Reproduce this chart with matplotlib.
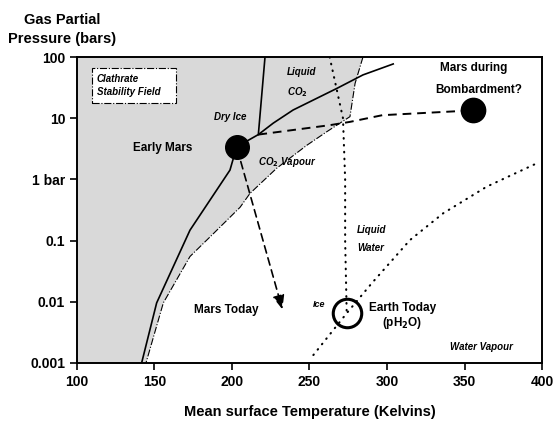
import numpy as np
import matplotlib
matplotlib.use('Agg')
import matplotlib.pyplot as plt
from matplotlib.patches import Rectangle

plt.rcParams['font.family'] = ['Liberation Sans', 'DejaVu Sans']
plt.rcParams['font.weight'] = 'bold'

# clathrate / CO2 stability field boundary (dash-dot edge of grey area)
field_T = [284.5, 279.4, 276.1, 261.1, 248.2, 228.8, 211.6, 205.2, 188, 172.9, 155.7, 144.5]
field_P = [100, 37, 10.6, 6.0, 3.6, 1.52, 0.59, 0.35, 0.13, 0.055, 0.0096, 0.001]

# CO2 sublimation / vapour curve (solid)
co2_T = [141.7, 151.4, 172.9, 198.7, 203, 217, 226.6, 239.4, 268, 284.5, 304]
co2_P = [0.001, 0.0096, 0.148, 1.42, 3.4, 5.4, 8.3, 13.6, 31, 51, 77]

# CO2 melting line
melt_T = [217, 221.3]
melt_P = [5.4, 100]

# water melting line (dotted)
wmelt_T = [263, 271.6, 273, 273, 274]
wmelt_P = [100, 10, 1, 0.1, 0.0065]

# water vapour / ice curve (dotted)
wvap_T = [252.5, 274, 290.1, 314.8, 336.3, 364.3, 396.6]
wvap_P = [0.00135, 0.0065, 0.02, 0.102, 0.28, 0.76, 1.83]

# dashed path triple point -> bombardment
path_T = [217, 263.2, 276, 297, 345, 355.5]
path_P = [5.4, 7.7, 8.7, 11.2, 13, 13.5]

early_mars = (203, 3.4)
bombard = (355.5, 13.5)
earth = (274, 0.0065)
arrow_end = (233, 0.0068)

fig = plt.figure(figsize=(5.55, 4.21), dpi=100)
ax = fig.add_axes([0.1387, 0.1378, 0.8379, 0.7268])
ax.set_yscale('log')
ax.set_xlim(100, 400)
ax.set_ylim(0.001, 100)

grey = '#d9d9d9'
poly_T = [100] + field_T + [100]
poly_P = [100] + field_P + [0.001]
ax.fill(poly_T, poly_P, color=grey, lw=0, zorder=0)
ax.plot(field_T, field_P, color='black', ls='-.', lw=0.8, zorder=1)

ax.plot(co2_T, co2_P, color='black', lw=1.2, zorder=2)
ax.plot(melt_T, melt_P, color='black', lw=1.2, zorder=2)
dot = dict(color='black', ls=(0, (0.3, 3.0)), lw=1.5, dash_capstyle='round', zorder=2)
ax.plot(wmelt_T, wmelt_P, **dot)
ax.plot(wvap_T, wvap_P, **dot)
ax.plot(path_T, path_P, color='black', ls=(0, (4.5, 3)), lw=1.4, zorder=2)

ax.annotate('', xy=arrow_end, xytext=early_mars,
            arrowprops=dict(arrowstyle='-|>,head_length=0.6,head_width=0.25',
                            ls=(0, (4.5, 3)), lw=1.2,
                            color='black', mutation_scale=14), zorder=2)

ax.plot(*early_mars, 'o', color='black', ms=17, zorder=3)
ax.plot(*bombard, 'o', color='black', ms=17.5, zorder=3)
ax.plot(*earth, 'o', mfc='none', mec='black', mew=2.2, ms=20.5, zorder=3)

bi = dict(fontsize=7, fontweight='bold', style='italic', ha='center', va='center')
b = dict(fontsize=8.5, fontweight='bold', ha='center', va='center')

ax.add_patch(Rectangle((109.7, 17.7), 163.9 - 109.7, 66 - 17.7, fc='white',
                       ec='black', ls='-.', lw=0.8, zorder=2))
ax.text(112.9, 34, 'Clathrate\nStability Field', fontsize=7, fontweight='bold',
        style='italic', ha='left', va='center', linespacing=1.35, zorder=3)
ax.text(235.5, 57, 'Liquid', fontsize=7, fontweight='bold', style='italic',
        ha='left', va='center')
ax.text(235.5, 27, 'CO$_2$', fontsize=7, fontweight='bold', style='italic',
        ha='left', va='center')
ax.text(199, 10.3, 'Dry Ice', **bi)
ax.text(155, 3.3, 'Early Mars', **b)
ax.text(235.5, 1.9, 'CO$_2$ Vapour', **bi)
ax.text(356, 66, 'Mars during', **b)
ax.text(359, 29, 'Bombardment?', **b)
ax.text(280.6, 0.15, 'Liquid', fontsize=7, fontweight='bold', style='italic',
        ha='left', va='center')
ax.text(280.6, 0.075, 'Water', fontsize=7, fontweight='bold', style='italic',
        ha='left', va='center')
ax.text(196, 0.0074, 'Mars Today', **b)
ax.text(256, 0.0092, 'Ice', fontsize=6.5, fontweight='bold', style='italic',
        ha='center', va='center')
ax.text(310, 0.0079, 'Earth Today', **b)
ax.text(310, 0.0045, '(pH$_2$O)', **b)
ax.text(361, 0.0018, 'Water Vapour', **bi)

ax.set_xticks([100, 150, 200, 250, 300, 350, 400])
ax.set_yticks([100, 10, 1, 0.1, 0.01, 0.001])
ax.set_yticklabels(['100', '10', '1 bar', '0.1', '0.01', '0.001'])
ax.minorticks_off()
ax.tick_params(direction='out', length=5, width=1.2, labelsize=10,
               top=False, right=False)
for lab in ax.get_xticklabels() + ax.get_yticklabels():
    lab.set_fontweight('bold')
for s in ax.spines.values():
    s.set_linewidth(1.4)

ax.set_xlabel('Mean surface Temperature (Kelvins)', fontsize=10.5,
              fontweight='bold', labelpad=12)
fig.text(0.112, 0.93, 'Gas Partial\nPressure (bars)', fontsize=10.5,
         fontweight='bold', ha='center', va='center', linespacing=1.4)

fig.savefig('out.png', dpi=100)
